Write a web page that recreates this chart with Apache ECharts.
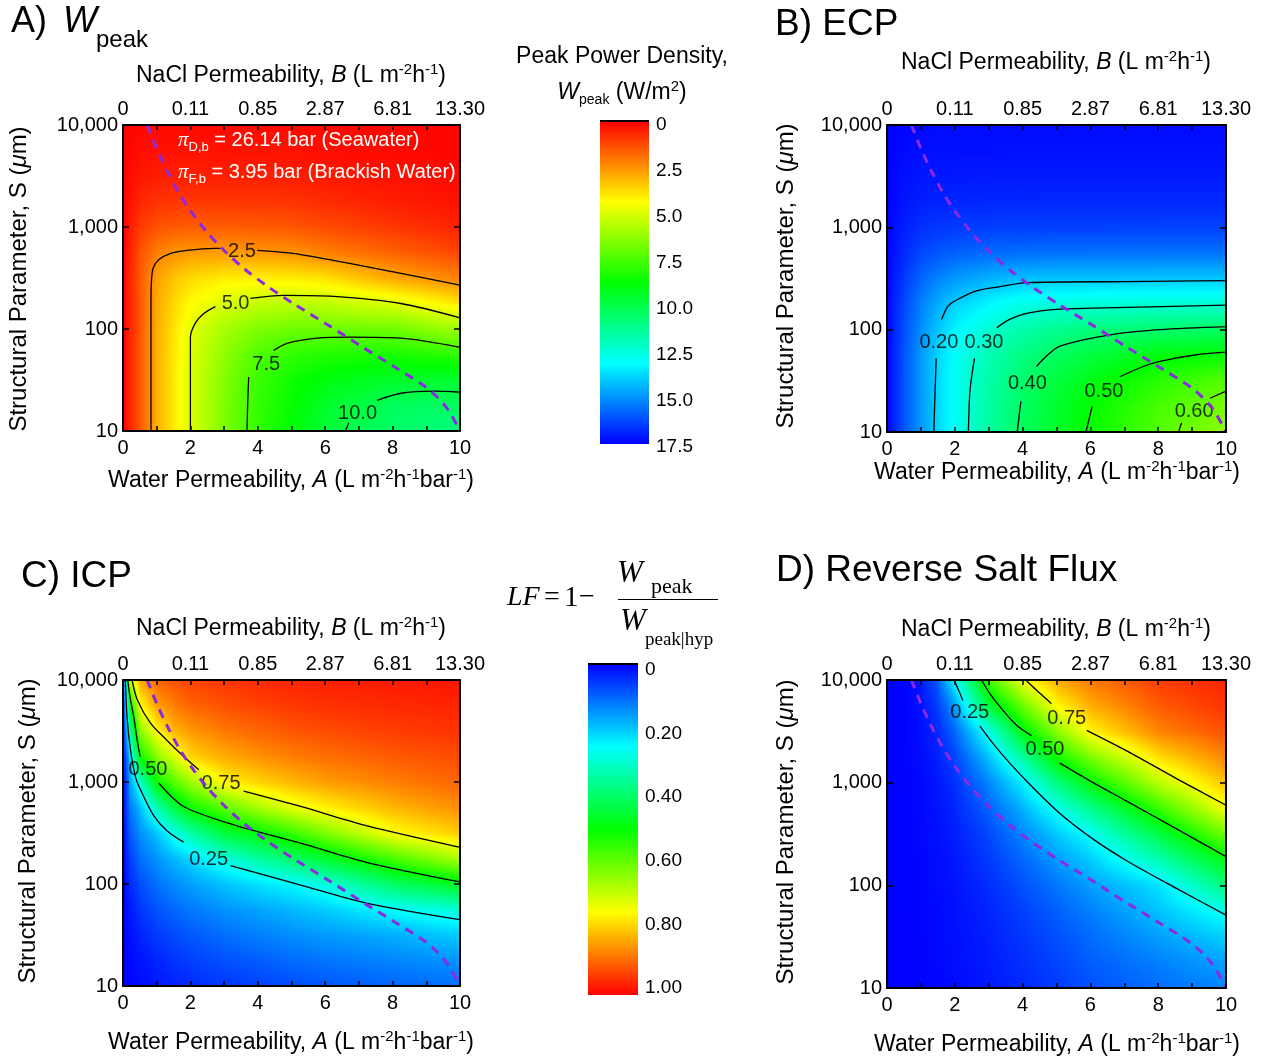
<!DOCTYPE html>
<html>
<head>
<meta charset="utf-8">
<script src="https://cdn.jsdelivr.net/npm/echarts@6/dist/echarts.min.js"></script>
<style>
  html, body { margin: 0; padding: 0; background: #fff; }
  #chart { width: 1266px; height: 1061px; }
</style>
</head>
<body>
<div id="chart"></div>
<script>
var FONT = '"Liberation Sans", Arial, sans-serif';
var SERIF = '"Liberation Serif", "Times New Roman", serif';

// grid nodes: water permeability A and log10 of structural parameter S
var aNodes = [0, 0.2, 0.5, 1, 1.5, 2, 3, 4, 5, 6, 8, 10];
var logSNodes = [1, 1.25, 1.5, 1.75, 2, 2.25, 2.5, 2.75, 3, 3.25, 3.5, 3.75, 4];

var xTickLabels = ['0', '2', '4', '6', '8', '10'];
var bTickLabels = ['0', '0.11', '0.85', '2.87', '6.81', '13.30'];
var sTickLabels = ['10', '100', '1,000', '10,000'];
var wTickLabels = ['0', '2.5', '5.0', '7.5', '10.0', '12.5', '15.0', '17.5'];
var lfTickLabels = ['0', '0.20', '0.40', '0.60', '0.80', '1.00'];

// A) peak power density W/m2, rows = logSNodes, cols = aNodes
var wpeakGrid = [
  [0, 0.6, 1.5, 3.0, 4.0, 5.0, 6.6, 7.9, 8.8, 9.7, 10.5, 11.0],
  [0, 0.6, 1.5, 3.0, 4.0, 5.0, 6.6, 7.85, 8.7, 9.45, 10.35, 10.4],
  [0, 0.6, 1.5, 3.0, 4.0, 5.0, 6.5, 7.75, 8.5, 9.0, 9.5, 9.6],
  [0, 0.6, 1.5, 3.0, 3.95, 4.95, 6.3, 7.4, 7.95, 8.2, 8.4, 8.0],
  [0, 0.6, 1.45, 2.95, 3.9, 4.8, 5.9, 6.6, 6.9, 6.9, 6.9, 6.0],
  [0, 0.6, 1.45, 2.9, 3.7, 4.35, 5.05, 5.4, 5.55, 5.5, 5.0, 4.0],
  [0, 0.6, 1.5, 2.75, 3.35, 3.75, 4.1, 4.15, 4.1, 3.9, 2.9, 2.25],
  [0, 0.55, 1.35, 2.2, 2.55, 2.65, 2.7, 2.6, 2.55, 2.2, 1.7, 1.2],
  [0, 0.42, 1.0, 1.4, 1.55, 1.6, 1.6, 1.55, 1.5, 1.3, 0.95, 0.6],
  [0, 0.28, 0.65, 0.85, 0.92, 0.95, 0.95, 0.92, 0.88, 0.75, 0.5, 0.3],
  [0, 0.17, 0.4, 0.5, 0.54, 0.55, 0.55, 0.53, 0.5, 0.42, 0.28, 0.15],
  [0, 0.1, 0.23, 0.28, 0.3, 0.31, 0.31, 0.3, 0.28, 0.24, 0.15, 0.08],
  [0, 0.055, 0.13, 0.16, 0.17, 0.17, 0.17, 0.16, 0.15, 0.13, 0.08, 0.05]
];

// B) loss factor from ECP
var ecpGrid = [
  [0, 0.035, 0.08, 0.15, 0.21, 0.26, 0.345, 0.41, 0.46, 0.505, 0.58, 0.64],
  [0, 0.035, 0.08, 0.15, 0.21, 0.26, 0.34, 0.405, 0.455, 0.5, 0.57, 0.62],
  [0, 0.035, 0.08, 0.15, 0.21, 0.26, 0.335, 0.395, 0.44, 0.48, 0.54, 0.585],
  [0, 0.035, 0.08, 0.15, 0.21, 0.255, 0.325, 0.375, 0.41, 0.44, 0.49, 0.505],
  [0, 0.033, 0.075, 0.14, 0.195, 0.24, 0.295, 0.335, 0.36, 0.38, 0.395, 0.405],
  [0, 0.03, 0.07, 0.125, 0.17, 0.205, 0.245, 0.275, 0.285, 0.29, 0.295, 0.297],
  [0, 0.025, 0.055, 0.1, 0.13, 0.15, 0.175, 0.19, 0.195, 0.195, 0.195, 0.195],
  [0, 0.019, 0.04, 0.07, 0.085, 0.095, 0.105, 0.11, 0.112, 0.113, 0.114, 0.115],
  [0, 0.014, 0.03, 0.045, 0.053, 0.057, 0.06, 0.062, 0.063, 0.063, 0.064, 0.064],
  [0, 0.009, 0.02, 0.03, 0.034, 0.036, 0.038, 0.039, 0.04, 0.04, 0.04, 0.04],
  [0, 0.006, 0.014, 0.02, 0.022, 0.023, 0.024, 0.025, 0.025, 0.025, 0.025, 0.025],
  [0, 0.004, 0.009, 0.013, 0.014, 0.015, 0.015, 0.016, 0.016, 0.016, 0.016, 0.016],
  [0, 0.003, 0.006, 0.008, 0.009, 0.01, 0.01, 0.01, 0.01, 0.01, 0.01, 0.01]
];

// C) loss factor from ICP
var icpGrid = [
  [0, 0.004, 0.01, 0.02, 0.031, 0.04, 0.053, 0.063, 0.072, 0.083, 0.098, 0.11],
  [0, 0.007, 0.018, 0.035, 0.049, 0.06, 0.078, 0.09, 0.104, 0.114, 0.13, 0.145],
  [0, 0.012, 0.032, 0.055, 0.072, 0.085, 0.107, 0.124, 0.138, 0.15, 0.17, 0.2],
  [0, 0.022, 0.05, 0.08, 0.1, 0.117, 0.142, 0.16, 0.18, 0.2, 0.25, 0.29],
  [0, 0.038, 0.075, 0.11, 0.135, 0.155, 0.19, 0.22, 0.245, 0.28, 0.4, 0.47],
  [0, 0.058, 0.105, 0.145, 0.18, 0.21, 0.28, 0.34, 0.396, 0.45, 0.565, 0.67],
  [0, 0.085, 0.14, 0.19, 0.27, 0.33, 0.44, 0.49, 0.55, 0.62, 0.745, 0.8],
  [0, 0.117, 0.18, 0.32, 0.43, 0.505, 0.59, 0.66, 0.72, 0.76, 0.82, 0.86],
  [0, 0.15, 0.29, 0.5, 0.58, 0.65, 0.755, 0.79, 0.82, 0.845, 0.875, 0.9],
  [0, 0.2, 0.5, 0.63, 0.71, 0.79, 0.83, 0.855, 0.875, 0.89, 0.91, 0.925],
  [0, 0.33, 0.63, 0.75, 0.82, 0.85, 0.88, 0.9, 0.915, 0.925, 0.94, 0.95],
  [0, 0.48, 0.745, 0.84, 0.875, 0.9, 0.92, 0.935, 0.945, 0.952, 0.96, 0.965],
  [0, 0.68, 0.83, 0.9, 0.92, 0.935, 0.948, 0.958, 0.965, 0.97, 0.975, 0.98]
];

// D) loss factor from reverse salt flux
var rsfGrid = [
  [0, 0, 0.001, 0.003, 0.006, 0.01, 0.022, 0.039, 0.058, 0.078, 0.105, 0.13],
  [0, 0, 0.001, 0.003, 0.007, 0.011, 0.026, 0.045, 0.066, 0.09, 0.125, 0.16],
  [0, 0, 0.001, 0.003, 0.008, 0.013, 0.03, 0.052, 0.077, 0.105, 0.155, 0.205],
  [0, 0, 0.001, 0.004, 0.009, 0.015, 0.035, 0.062, 0.092, 0.125, 0.19, 0.265],
  [0, 0, 0.002, 0.004, 0.01, 0.018, 0.043, 0.078, 0.115, 0.155, 0.22, 0.377],
  [0, 0, 0.002, 0.005, 0.012, 0.022, 0.055, 0.1, 0.15, 0.2, 0.32, 0.487],
  [0, 0, 0.002, 0.006, 0.015, 0.028, 0.07, 0.13, 0.195, 0.255, 0.43, 0.61],
  [0, 0, 0.002, 0.007, 0.018, 0.035, 0.095, 0.175, 0.265, 0.36, 0.55, 0.74],
  [0, 0, 0.002, 0.008, 0.022, 0.045, 0.13, 0.235, 0.37, 0.49, 0.68, 0.81],
  [0, 0, 0.002, 0.01, 0.03, 0.065, 0.19, 0.34, 0.51, 0.62, 0.78, 0.87],
  [0, 0, 0.002, 0.012, 0.04, 0.1, 0.27, 0.48, 0.63, 0.755, 0.87, 0.92],
  [0, 0, 0.002, 0.015, 0.06, 0.15, 0.44, 0.6, 0.75, 0.83, 0.91, 0.95],
  [0, 0, 0.003, 0.025, 0.09, 0.25, 0.56, 0.735, 0.83, 0.88, 0.94, 0.965]
];

// contour lines [A, log10 S], split where the label sits
var wpeakContours = [
  { label: '2.5', at: [3.53, 2.76], segs: [
    [[0.83, 1.0], [0.83, 1.6], [0.83, 2.3], [0.85, 2.5], [0.9, 2.6], [1.06, 2.68], [1.4, 2.74], [1.9, 2.77], [2.69, 2.79], [2.89, 2.79]],
    [[3.98, 2.77], [5.27, 2.73], [7.25, 2.61], [10, 2.43]]] },
  { label: '5.0', at: [3.34, 2.25], segs: [
    [[2.0, 1.0], [2.0, 1.5], [2.0, 1.92], [2.15, 2.06], [2.39, 2.15], [2.74, 2.22]],
    [[3.78, 2.30], [4.77, 2.33], [6.26, 2.32], [8.24, 2.25], [10, 2.11]]] },
  { label: '7.5', at: [4.25, 1.65], segs: [
    [[3.68, 1.0], [3.7, 1.27], [3.73, 1.53]],
    [[4.47, 1.79], [4.87, 1.86], [5.76, 1.91], [6.75, 1.92], [8.24, 1.91], [10, 1.82]]] },
  { label: '10.0', at: [6.96, 1.17], segs: [
    [[6.6, 1.0], [6.7, 1.08]],
    [[7.54, 1.30], [8.24, 1.37], [9.23, 1.39], [10, 1.38]]] }
];
var ecpContours = [
  { label: '0.20', at: [1.53, 1.87], segs: [
    [[1.38, 1.0], [1.42, 1.41], [1.45, 1.72]],
    [[1.61, 2.10], [1.80, 2.23], [2.05, 2.29], [2.64, 2.38], [3.33, 2.42], [4.12, 2.46], [7.07, 2.47], [10, 2.48]]] },
  { label: '0.30', at: [2.86, 1.87], segs: [
    [[2.40, 1.0], [2.45, 1.41], [2.58, 1.72]],
    [[3.24, 2.02], [3.62, 2.10], [4.12, 2.16], [5.1, 2.2], [6.08, 2.21], [10, 2.24]]] },
  { label: '0.40', at: [4.14, 1.47], segs: [
    [[3.84, 1.0], [3.95, 1.30]],
    [[4.41, 1.64], [4.7, 1.74], [5.1, 1.84], [6.58, 1.95], [8.05, 2.0], [10, 2.03]]] },
  { label: '0.50', at: [6.40, 1.40], segs: [
    [[5.87, 1.0], [6.05, 1.25]],
    [[6.87, 1.54], [7.56, 1.64], [8.05, 1.69], [9.03, 1.75], [10, 1.78]]] },
  { label: '0.60', at: [9.06, 1.20], segs: [
    [[8.6, 1.0], [8.69, 1.09]],
    [[9.53, 1.33], [10, 1.40]]] }
];
var icpContours = [
  { label: '0.75', at: [2.91, 2.99], segs: [
    [[0.27, 4.0], [0.42, 3.81], [0.81, 3.58], [1.3, 3.41], [1.8, 3.25], [2.25, 3.12]],
    [[3.58, 2.91], [5.27, 2.76], [7.25, 2.57], [10, 2.36]]] },
  { label: '0.50', at: [0.74, 3.12], segs: [
    [[0.14, 4.0], [0.22, 3.81], [0.32, 3.64], [0.42, 3.41], [0.51, 3.25]],
    [[1.06, 2.99], [1.8, 2.76], [3.29, 2.58], [5.27, 2.40], [7.25, 2.21], [10, 2.02]]] },
  { label: '0.25', at: [2.54, 2.24], segs: [
    [[0.07, 4.0], [0.12, 3.64], [0.22, 3.32], [0.37, 3.05], [0.51, 2.93], [0.91, 2.67], [1.31, 2.52], [1.8, 2.41]],
    [[3.19, 2.18], [5.27, 1.99], [7.25, 1.81], [10, 1.65]]] }
];
var rsfContours = [
  { label: '0.25', at: [2.44, 3.68], segs: [
    [[1.98, 4.0], [2.15, 3.87], [2.24, 3.80]],
    [[2.74, 3.55], [3.13, 3.38], [3.62, 3.19], [4.31, 2.95], [5.1, 2.70], [6.08, 2.45], [7.07, 2.24], [8.54, 1.97], [10, 1.71]]] },
  { label: '0.50', at: [4.66, 3.32], segs: [
    [[2.79, 4.0], [3.03, 3.87], [3.33, 3.74], [3.82, 3.56], [4.26, 3.46]],
    [[5.1, 3.19], [6.08, 3.0], [7.07, 2.82], [8.54, 2.55], [10, 2.28]]] },
  { label: '0.75', at: [5.30, 3.63], segs: [
    [[4.09, 4.0], [4.51, 3.87], [4.85, 3.77]],
    [[5.89, 3.51], [7.07, 3.31], [8.54, 3.04], [10, 2.78]]] }
];

// dashed purple boundary, same in every panel
var dashedLine = [[0.72, 4.0], [1.0, 3.77], [1.31, 3.55], [1.65, 3.34], [2.0, 3.16], [2.49, 2.95], [3.0, 2.77],
  [3.6, 2.59], [4.28, 2.42], [5.1, 2.24], [6.08, 2.04], [7.07, 1.83], [8.05, 1.63], [9.03, 1.42], [9.6, 1.23], [10.0, 1.0]];

// blue -> cyan -> green -> yellow -> red
var rainbow = [[0, 0, 255], [0, 255, 255], [0, 255, 0], [255, 255, 0], [255, 0, 0]];
function cmap(t) {
  t = Math.max(0, Math.min(1, t));
  var s = t * 4, i = Math.min(3, Math.floor(s)), f = s - i;
  var a = rainbow[i], b = rainbow[i + 1];
  return 'rgb(' + Math.round(a[0] + (b[0] - a[0]) * f) + ',' + Math.round(a[1] + (b[1] - a[1]) * f) + ',' + Math.round(a[2] + (b[2] - a[2]) * f) + ')';
}
function wColor(v) { return cmap(1 - v / 17.5); }

var panels = [
  { grid: { left: 123, top: 125, width: 337, height: 306 }, values: wpeakGrid, color: wColor, contours: wpeakContours },
  { grid: { left: 887, top: 125, width: 339, height: 307 }, values: ecpGrid, color: cmap, contours: ecpContours },
  { grid: { left: 123, top: 680, width: 337, height: 306 }, values: icpGrid, color: cmap, contours: icpContours },
  { grid: { left: 887, top: 680, width: 339, height: 308 }, values: rsfGrid, color: cmap, contours: rsfContours }
];

function heatRender(grid, colorOf) {
  return function (params, api) {
    var i = api.value(2), j = api.value(3);
    var p0 = api.coord([aNodes[i], logSNodes[j]]);
    var p1 = api.coord([aNodes[i + 1], logSNodes[j + 1]]);
    var w = p1[0] - p0[0], h = p0[1] - p1[1];
    var n = Math.max(1, Math.ceil(h / 2));
    var v00 = grid[j][i], v10 = grid[j][i + 1], v01 = grid[j + 1][i], v11 = grid[j + 1][i + 1];
    var kids = [];
    for (var k = 0; k < n; k++) {
      var t = (k + 0.5) / n;
      var vl = v00 + (v01 - v00) * t, vr = v10 + (v11 - v10) * t;
      var stops = [];
      for (var s = 0; s <= 8; s++) {
        stops.push({ offset: s / 8, color: colorOf(vl + (vr - vl) * s / 8) });
      }
      kids.push({
        type: 'rect',
        shape: { x: p0[0] - 0.5, y: p0[1] - h * (k + 1) / n - 0.6, width: w + 1.2, height: h / n + 1.2 },
        style: { fill: new echarts.graphic.LinearGradient(0, 0, 1, 0, stops) }
      });
    }
    return { type: 'group', children: kids };
  };
}

var black = '#000';
var grids = [], xAxes = [], yAxes = [], series = [];

panels.forEach(function (p, k) {
  grids.push(p.grid);
  var frame = { show: true, onZero: false, lineStyle: { color: black, width: 2 } };
  var tick = { show: true, inside: true, length: 5, lineStyle: { color: black, width: 1.5 } };
  var minor = { show: true, splitNumber: 2, length: 5, lineStyle: { color: black, width: 1.5 } };
  xAxes.push({
    gridIndex: k, type: 'value', min: 0, max: 10, interval: 2, position: 'bottom', z: 10,
    axisLine: frame, axisTick: tick, minorTick: minor, splitLine: { show: false },
    axisLabel: { margin: 7, fontSize: 20, fontFamily: FONT, color: black, showMinLabel: true, showMaxLabel: true,
      formatter: function (v) { return xTickLabels[Math.round(v / 2)]; } }
  });
  xAxes.push({
    gridIndex: k, type: 'value', min: 0, max: 10, interval: 2, position: 'top', z: 10,
    axisLine: frame, axisTick: tick, minorTick: minor, splitLine: { show: false },
    axisLabel: { margin: 6, fontSize: 20, fontFamily: FONT, color: black, showMinLabel: true, showMaxLabel: true,
      formatter: function (v) { return bTickLabels[Math.round(v / 2)]; } }
  });
  var ytick = { show: true, inside: true, length: 6, lineStyle: { color: black, width: 1.5 } };
  yAxes.push({
    gridIndex: k, type: 'value', min: 1, max: 4, interval: 1, position: 'left', z: 10,
    axisLine: frame, axisTick: ytick, splitLine: { show: false },
    axisLabel: { margin: 5, fontSize: 20, fontFamily: FONT, color: black, showMinLabel: true, showMaxLabel: true,
      formatter: function (v) { return sTickLabels[Math.round(v) - 1]; } }
  });
  yAxes.push({
    gridIndex: k, type: 'value', min: 1, max: 4, interval: 1, position: 'right', z: 10,
    axisLine: frame, axisTick: ytick, splitLine: { show: false }, axisLabel: { show: false }
  });

  var cells = [];
  for (var j = 0; j < logSNodes.length - 1; j++) {
    for (var i = 0; i < aNodes.length - 1; i++) {
      cells.push([(aNodes[i] + aNodes[i + 1]) / 2, (logSNodes[j] + logSNodes[j + 1]) / 2, i, j]);
    }
  }
  series.push({
    type: 'custom', xAxisIndex: 2 * k, yAxisIndex: 2 * k, z: 1, silent: true, clip: true,
    encode: { x: 0, y: 1 }, data: cells, renderItem: heatRender(p.values, p.color)
  });

  p.contours.forEach(function (c) {
    c.segs.forEach(function (seg) {
      series.push({
        type: 'line', xAxisIndex: 2 * k, yAxisIndex: 2 * k, z: 3, silent: true,
        data: seg, smooth: 0.3, symbol: 'none', lineStyle: { color: black, width: 1.3 }
      });
    });
    series.push({
      type: 'scatter', xAxisIndex: 2 * k, yAxisIndex: 2 * k, z: 4, silent: true,
      symbolSize: 1, itemStyle: { color: 'rgba(0,0,0,0)' },
      data: [{ value: c.at, name: c.label }],
      label: { show: true, position: 'inside', formatter: '{b}', fontSize: 20, fontFamily: FONT, color: black }
    });
  });

  series.push({
    type: 'line', xAxisIndex: 2 * k, yAxisIndex: 2 * k, z: 5, silent: true,
    data: dashedLine, smooth: 0.3, symbol: 'none',
    lineStyle: { color: '#8a2be2', width: 3, type: [9, 7] }
  });
});

// colour bars: one grid for the bar, one for its tick labels
var bars = [
  { bar: { left: 600, top: 121, width: 49, height: 323 }, labelGrid: { left: 600, top: 125, width: 49, height: 322 },
    max: 17.5, interval: 2.5, labels: wTickLabels, color: wColor },
  { bar: { left: 588, top: 664, width: 50, height: 331 }, labelGrid: { left: 588, top: 670, width: 50, height: 318 },
    max: 1, interval: 0.2, labels: lfTickLabels, color: cmap }
];
bars.forEach(function (b, n) {
  var gi = 4 + 2 * n, ai = 8 + 2 * n;
  grids.push(b.bar, b.labelGrid);
  xAxes.push({ gridIndex: gi, type: 'value', min: 0, max: 1, show: false });
  xAxes.push({ gridIndex: gi + 1, type: 'value', min: 0, max: 1, show: false });
  yAxes.push({ gridIndex: gi, type: 'value', min: 0, max: b.max, inverse: true, show: false });
  yAxes.push({
    gridIndex: gi + 1, type: 'value', min: 0, max: b.max, interval: b.interval, inverse: true, position: 'right',
    axisLine: { show: false }, axisTick: { show: false }, splitLine: { show: false },
    axisLabel: { margin: 7, fontSize: 19, fontFamily: FONT, color: black, showMinLabel: true, showMaxLabel: true,
      formatter: function (v) { return b.labels[Math.round(v / b.interval)]; } }
  });
  series.push({
    type: 'custom', xAxisIndex: ai, yAxisIndex: ai, silent: true, data: [[0.5, b.max / 2]],
    renderItem: function (params, api) {
      var p0 = api.coord([0, 0]), p1 = api.coord([1, b.max]);
      var stops = [];
      for (var s = 0; s <= 20; s++) {
        stops.push({ offset: s / 20, color: b.color(b.max * s / 20) });
      }
      return { type: 'group', children: [
        { type: 'rect', shape: { x: p0[0], y: p0[1], width: p1[0] - p0[0], height: p1[1] - p0[1] },
          style: { fill: new echarts.graphic.LinearGradient(0, 0, 0, 1, stops) } },
        { type: 'line', shape: { x1: p0[0], y1: p0[1], x2: p1[0], y2: p0[1] }, style: { stroke: black, lineWidth: 2 } }
      ] };
    }
  });
});

// text pieces
function txt(x, y, text, size, opts) {
  opts = opts || {};
  return {
    type: 'text', x: x, y: y, rotation: opts.rotation || 0, z: 20, silent: true,
    style: {
      text: text, x: 0, y: 0, fill: opts.fill || black,
      fontSize: size, fontFamily: opts.family || FONT, fontStyle: opts.italic ? 'italic' : 'normal',
      align: opts.align || 'left', verticalAlign: 'middle',
      textAlign: opts.align || 'left', textVerticalAlign: 'middle',
      rich: opts.rich
    }
  };
}
function richSet(size, color) {
  return {
    t: { fontSize: size, fontFamily: FONT, fill: color, color: color, lineHeight: 28 },
    i: { fontSize: size, fontFamily: FONT, fontStyle: 'italic', fill: color, color: color, lineHeight: 28 },
    s: { fontSize: 15, fontFamily: FONT, fill: color, color: color, lineHeight: 14, verticalAlign: 'top' },
    d: { fontSize: 14, fontFamily: FONT, fill: color, color: color, lineHeight: 14, verticalAlign: 'bottom' },
    p: { fontSize: size + 1, fontFamily: SERIF, fontStyle: 'italic', fill: color, color: color, lineHeight: 28 }
  };
}
var axRich = richSet(23, black);
var yRich = richSet(24, black);
var whiteRich = richSet(20, '#fff');
whiteRich.d.fontSize = 13;
var topTitle = '{t|NaCl Permeability, }{i|B}{t| (L m}{s|-2}{t|h}{s|-1}{t|)}';
var botTitle = '{t|Water Permeability, }{i|A}{t| (L m}{s|-2}{t|h}{s|-1}{t|bar}{s|-1}{t|)}';
var yTitle = '{t|Structural Parameter, S (}{i|\u03bc}{t|m)}';

var graphics = [
  txt(11, 22, 'A)', 36), txt(63, 22, 'W', 36, { italic: true }), txt(96, 40, 'peak', 24),
  txt(775, 25, 'B) ECP', 37),
  txt(21, 577, 'C) ICP', 37),
  txt(776, 571, 'D) Reverse Salt Flux', 37),

  txt(291, 76, topTitle, 23, { align: 'center', rich: axRich }),
  txt(1056, 63, topTitle, 23, { align: 'center', rich: axRich }),
  txt(291, 629, topTitle, 23, { align: 'center', rich: axRich }),
  txt(1056, 630, topTitle, 23, { align: 'center', rich: axRich }),

  txt(291, 481, botTitle, 23, { align: 'center', rich: axRich }),
  txt(1057, 473, botTitle, 23, { align: 'center', rich: axRich }),
  txt(291, 1043, botTitle, 23, { align: 'center', rich: axRich }),
  txt(1057, 1045, botTitle, 23, { align: 'center', rich: axRich }),

  txt(19, 279, yTitle, 24, { align: 'center', rich: yRich, rotation: Math.PI / 2 }),
  txt(786, 276, yTitle, 24, { align: 'center', rich: yRich, rotation: Math.PI / 2 }),
  txt(28, 831, yTitle, 24, { align: 'center', rich: yRich, rotation: Math.PI / 2 }),
  txt(786, 832, yTitle, 24, { align: 'center', rich: yRich, rotation: Math.PI / 2 }),

  txt(178, 140, '{p|\u03c0}{d|D,b}{t| = 26.14 bar (Seawater)}', 20, { fill: '#fff', rich: whiteRich }),
  txt(178, 172, '{p|\u03c0}{d|F,b}{t| = 3.95 bar (Brackish Water)}', 20, { fill: '#fff', rich: whiteRich }),

  txt(622, 57, 'Peak Power Density,', 23, { align: 'center' }),
  txt(622, 93, '{i|W}{d|peak}{t| (W/m}{s|2}{t|)}', 23, { align: 'center', rich: axRich }),

  txt(507, 598, 'LF', 28, { italic: true, family: SERIF }),
  txt(544, 598, '=', 28, { family: SERIF }),
  txt(564, 598, '1', 29, { family: SERIF }),
  txt(579, 598, '\u2212', 28, { family: SERIF }),
  txt(617, 574, 'W', 31, { italic: true, family: SERIF }),
  txt(651, 587, 'peak', 22, { family: SERIF }),
  txt(620, 622, 'W', 31, { italic: true, family: SERIF }),
  txt(645, 640, 'peak|hyp', 19, { family: SERIF }),
  { type: 'line', z: 20, silent: true, shape: { x1: 618, y1: 599.5, x2: 718, y2: 599.5 }, style: { stroke: black, lineWidth: 1.2 } }
];

var chart = echarts.init(document.getElementById('chart'));
chart.setOption({
  animation: false,
  backgroundColor: '#fff',
  grid: grids,
  xAxis: xAxes,
  yAxis: yAxes,
  series: series,
  graphic: graphics
});
</script>
</body>
</html>
